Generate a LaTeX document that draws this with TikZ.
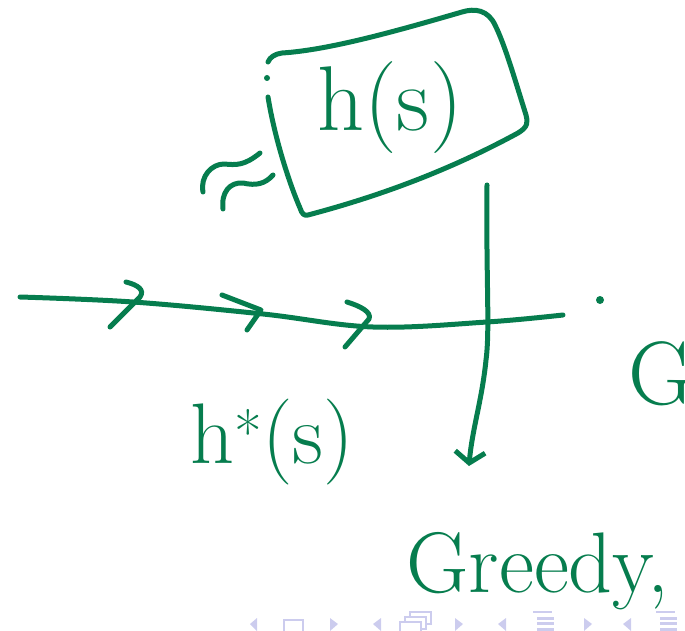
\documentclass[tikz,border=0pt]{standalone}
\usepackage{fontspec}
\usetikzlibrary{arrows.meta, positioning}

\definecolor{ink}{RGB}{6,125,78}
\definecolor{navc}{RGB}{204,204,238}

\begin{document}
\begin{tikzpicture}[
  x=1pt, y=-1pt,
  pen/.style={draw=ink, line width=5pt, line cap=round, line join=round},
  scrawl/.style={text=ink, inner sep=0pt},
  navtri/.style={fill=navc, draw=none},
  navbox/.style={draw=navc, line width=2.5pt, fill=white}
]
  \useasboundingbox (0,0) rectangle (685,631);

  % navigationsleiste
  \fill[navtri] (250,624) -- (257,618) -- (257,631) -- cycle;
  \draw[navbox] (284,620) rectangle (303,633);
  \fill[navtri] (330,618) -- (338,624) -- (330,631) -- cycle;
  \fill[navtri] (373,624) -- (381,618) -- (381,631) -- cycle;
  \foreach \d in {10,5,0} \draw[navbox] (400+\d,622-\d) rectangle (421+\d,634-\d);
  \fill[navtri] (455,618) -- (463,624) -- (455,631) -- cycle;
  \fill[navtri] (498,624) -- (506,618) -- (506,631) -- cycle;
  \fill[navtri] (584,618) -- (592,624) -- (584,631) -- cycle;
  \fill[navtri] (623,624) -- (631,618) -- (631,631) -- cycle;
  \foreach \xa in {533,656} {
    \draw[navc, line width=1.5pt] (\xa,612) -- (\xa+19,612);
    \foreach \yy in {618,623.5,629} \draw[navc, line width=3pt] (\xa+4,\yy) -- (\xa+21,\yy);
  }

  % kasten um h(s)
  \draw[pen] (268,97) .. controls (275,140) and (290,185) .. (300,208)
    .. controls (302,214) and (304,216) .. (308,215)
    .. controls (380,196) and (450,170) .. (518,133)
    .. controls (528,127) and (528,122) .. (526,115)
    .. controls (515,80) and (505,45) .. (495,25)
    .. controls (488,10) and (475,8) .. (462,12)
    .. controls (400,30) and (330,50) .. (282,53)
    .. controls (275,54) and (270,57) .. (268,62);
  \fill[ink] (267,78) circle (3pt);
  \node[scrawl, font=\fontsize{92}{92}\selectfont] (hs) at (390,108) {h(s)};

  % tilde-striche links vom kasten
  \draw[pen] (203,192) .. controls (200,176) and (212,164) .. (224,164)
    .. controls (236,165) and (244,166) .. (260,153);
  \draw[pen] (223,209) .. controls (221,192) and (230,182) .. (243,183)
    .. controls (256,186) and (265,184) .. (273,175);

  % pfad mit richtungsmarken
  \draw[pen] plot[smooth, tension=0.6] coordinates
    {(20,297) (133,302) (263,314) (373,327) (487,322) (563,315)};
  \draw[pen] (126,282) .. controls (138,285) and (145,290) .. (140,297) -- (110,327);
  \draw[pen] (222,295) -- (261,310) -- (247,330);
  \draw[pen] (347,302) .. controls (360,306) and (372,312) .. (369,319) -- (345,347);
  \fill[ink] (600,300) circle (4pt);

  % beschriftungen
  \node[scrawl, font=\fontsize{86}{86}\selectfont] (hstar) at (272,442) {h\textsuperscript{*}(s)};
  \node[scrawl, anchor=base west, font=\fontsize{90}{90}\selectfont] (gcut) at (628,404) {G};
  \node[scrawl, anchor=base west, font=\fontsize{86}{86}\selectfont] (greedy) at (406,592) {Greedy,};

  % pfeil nach unten
  \coordinate (dstart) at (487,185);
  \coordinate (dend) at (469,466);
  \draw[pen, -{Straight Barb[length=11pt, width=30pt, line width=5pt]}]
    (dstart) .. controls (486,280) and (490,330) .. (486,360)
    .. controls (482,400) and (472,430) .. (dend);
\end{tikzpicture}
\end{document}
